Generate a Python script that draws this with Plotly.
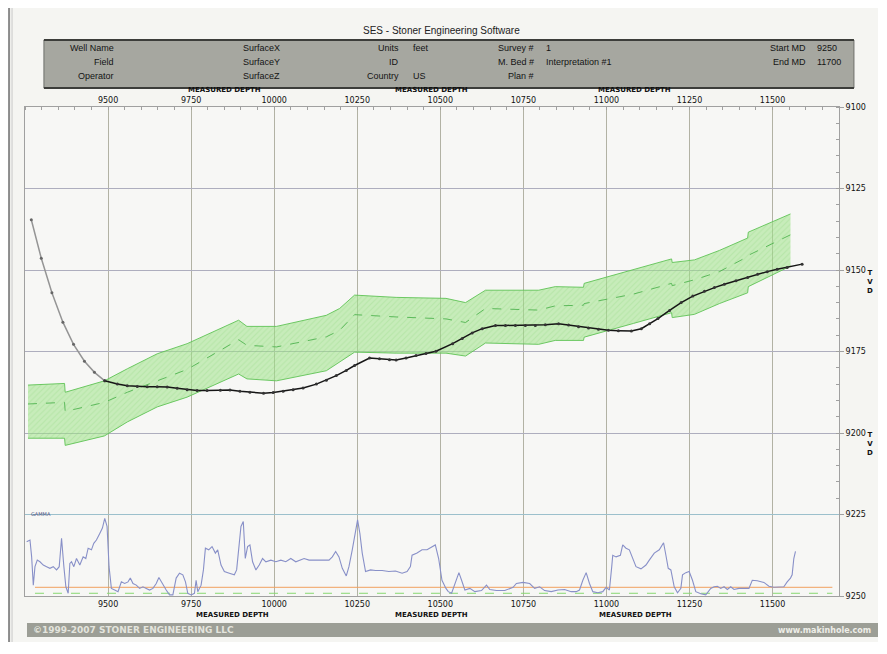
import plotly.graph_objects as go

# ---------------- data ----------------
# Well trajectory (measured depth, true vertical depth)
traj_md_pre = [9269, 9299, 9331, 9364, 9396, 9429, 9459, 9490]
traj_tvd_pre = [9134.6, 9146.4, 9157.0, 9166.0, 9172.8, 9178.0, 9181.4, 9184.0]

traj_md = [9490, 9528, 9558, 9588, 9618, 9648, 9678, 9708, 9738, 9768, 9798, 9838,
           9867, 9897, 9927, 9968, 9997, 10027, 10057, 10087, 10127, 10157, 10187,
           10217, 10242, 10287, 10317, 10347, 10367, 10397, 10427, 10457, 10487,
           10537, 10566, 10596, 10626, 10666, 10696, 10726, 10756, 10786, 10816,
           10856, 10886, 10916, 10946, 10976, 11006, 11036, 11075, 11105, 11130,
           11155, 11190, 11225, 11260, 11295, 11325, 11355, 11390, 11425, 11455,
           11484, 11514, 11544, 11589]
traj_tvd = [9184.0, 9185.0, 9185.5, 9185.7, 9185.8, 9185.8, 9185.9, 9186.3, 9186.7,
            9187.0, 9187.0, 9186.9, 9186.8, 9187.2, 9187.5, 9187.8, 9187.6, 9187.2,
            9186.7, 9186.2, 9185.0, 9183.8, 9182.4, 9180.8, 9179.3, 9177.0, 9177.2,
            9177.5, 9177.6, 9177.0, 9176.2, 9175.6, 9174.9, 9172.6, 9171.0, 9169.3,
            9168.0, 9167.0, 9167.0, 9167.0, 9167.0, 9167.0, 9166.8, 9166.5, 9166.9,
            9167.4, 9167.8, 9168.2, 9168.5, 9168.6, 9168.7, 9168.0, 9166.5, 9164.9,
            9162.4, 9160.0, 9158.0, 9156.5, 9155.4, 9154.4, 9153.3, 9152.3, 9151.3,
            9150.5, 9149.8, 9149.2, 9148.2]

# Marker bed interpretation band
band_md = [9259, 9369, 9371, 9489, 9558, 9648, 9738, 9893, 9918, 10007, 10157,
           10197, 10242, 10367, 10517, 10576, 10636, 10796, 10846, 10931, 10933,
           11081, 11196, 11198, 11265, 11340, 11425, 11427, 11554]
band_top = [9185.3, 9184.8, 9187.5, 9184.0, 9180.3, 9175.7, 9172.6, 9165.4, 9167.3,
            9167.3, 9163.9, 9161.8, 9157.7, 9158.4, 9158.7, 9160.0, 9156.2, 9156.2,
            9155.1, 9155.3, 9154.1, 9149.8, 9146.6, 9147.7, 9146.9, 9144.0, 9140.2,
            9138.4, 9132.8]
band_bot = [9201.6, 9201.6, 9203.8, 9200.9, 9196.6, 9192.0, 9189.0, 9181.9, 9183.4,
            9184.0, 9180.9, 9178.3, 9175.2, 9175.5, 9175.5, 9176.4, 9172.4, 9172.8,
            9171.6, 9171.6, 9170.6, 9166.4, 9163.1, 9164.6, 9163.6, 9160.3, 9157.0,
            9155.1, 9148.8]
band_mid = [9191.1, 9190.6, 9193.4, 9190.6, 9187.5, 9184.0, 9180.5, 9171.4, 9173.1,
            9173.6, 9170.5, 9168.5, 9163.7, 9164.4, 9165.0, 9166.1, 9161.8, 9162.3,
            9161.0, 9160.8, 9160.3, 9157.4, 9154.1, 9154.8, 9153.0, 9150.5, 9145.9,
            9145.5, 9139.2]

# Gamma log (API)
gamma_md = [9255, 9265, 9270, 9275, 9280, 9287, 9295, 9305, 9315, 9325, 9335, 9345,
            9353, 9360, 9367, 9373, 9380, 9385, 9390, 9397, 9405, 9415, 9425, 9433,
            9440, 9450, 9457, 9465, 9475, 9483, 9490, 9497, 9503, 9510, 9520, 9530,
            9540, 9550, 9560, 9567, 9575, 9585, 9595, 9605, 9615, 9625, 9635, 9645,
            9653, 9663, 9675, 9685, 9695, 9705, 9715, 9725, 9733, 9740, 9750, 9760,
            9765, 9770, 9780, 9787, 9793, 9803, 9813, 9823, 9830, 9840, 9850, 9865,
            9880, 9887, 9893, 9900, 9907, 9913, 9920, 9927, 9935, 9945, 9955, 9965,
            9975, 9990, 10005, 10020, 10035, 10050, 10065, 10080, 10090, 10105, 10120,
            10135, 10150, 10165, 10175, 10185, 10195, 10205, 10217, 10225, 10235,
            10245, 10251, 10258, 10265, 10275, 10290, 10305, 10325, 10345, 10365,
            10385, 10400, 10410, 10415, 10430, 10445, 10460, 10475, 10485, 10495,
            10505, 10517, 10524, 10534, 10546, 10556, 10564, 10574, 10589, 10604,
            10624, 10639, 10649, 10669, 10694, 10719, 10729, 10749, 10769, 10784,
            10799, 10814, 10834, 10854, 10874, 10894, 10909, 10919, 10929, 10939,
            10949, 10959, 10974, 10989, 10999, 11009, 11016, 11019, 11029, 11042,
            11049, 11059, 11069, 11079, 11089, 11104, 11119, 11129, 11144, 11159,
            11164, 11172, 11179, 11186, 11194, 11204, 11214, 11224, 11229, 11239,
            11249, 11259, 11269, 11284, 11299, 11314, 11324, 11334, 11344, 11354,
            11364, 11374, 11384, 11399, 11414, 11429, 11439, 11454, 11474, 11489,
            11504, 11519, 11534, 11544, 11554, 11559, 11564, 11569]
gamma_api = [100, 103, 72, 20, 54, 66, 63, 57, 54, 51, 54, 48,
             54, 106, 54, 17, 5, 60, 63, 54, 69, 57, 72, 69,
             88, 85, 97, 103, 115, 125, 143, 128, 54, 14, 11, 8,
             26, 23, 26, 33, 23, 20, 14, 17, 14, 11, 14, 23,
             34, 23, 11, 2, 2, 33, 42, 39, 26, 5, 2, 5,
             29, 8, 20, 48, 88, 85, 91, 79, 85, 57, 45, 42,
             39, 48, 91, 128, 137, 69, 91, 94, 63, 48, 57, 69,
             63, 66, 63, 66, 63, 69, 63, 66, 69, 66, 66,
             67, 66, 66, 72, 82, 72, 51, 37, 54, 85,
             121, 140, 115, 79, 45, 48, 47, 47, 45, 46,
             42, 45, 54, 75, 79, 85, 85, 91, 94, 69,
             29, 14, 8, 5, 26, 43, 29, 11, 14, 8,
             10, 20, 12, 10, 10, 16, 23, 25, 23, 14,
             17, 10, 8, 11, 12, 8, 8, 11, 29, 43,
             23, 8, 6, 8, 16, 11, 54, 75, 72, 75,
             94, 88, 85, 69, 54, 50, 57, 66, 79, 85,
             91, 98, 75, 51, 48, 17, 6, 14, 39, 43,
             45, 29, 8, 4, 2, 14, 17, 18, 14, 17,
             12, 17, 12, 14, 14, 14, 29, 28, 25, 18,
             16, 16, 17, 26, 33, 39, 69, 82]

gamma_cutoff_md = [9280, 11680]
gamma_cutoff_high = 16
gamma_cutoff_low = 5

md_ticks = [9500, 9750, 10000, 10250, 10500, 10750, 11000, 11250, 11500]
tvd_ticks = [9100, 9125, 9150, 9175, 9200, 9225, 9250]

header_rows = [
    ["Well Name", "SurfaceX", "Units", "feet", "Survey #", "1", "Start MD", "9250"],
    ["Field", "SurfaceY", "ID", "", "M. Bed #", "Interpretation #1", "End MD", "11700"],
    ["Operator", "SurfaceZ", "Country", "US", "Plan #", "", "", ""],
]

# ---------------- layout helpers ----------------
OFF = 8  # page body margin of the html page
W, H = 870, 634
L, R, T, B = 25, 842, 107, 596  # plot area in screen pixels


def PX(px):
    return (px - L) / (R - L)


def PY(py):
    return (B - py) / (B - T)


FONT = "DejaVu Sans"
HFONT = "Liberation Sans"

fig = go.Figure()

# band
fig.add_trace(go.Scatter(x=band_md, y=band_bot, mode="lines",
                         line=dict(color="rgba(95,195,85,0.9)", width=1),
                         hoverinfo="skip", showlegend=False))
fig.add_trace(go.Scatter(x=band_md, y=band_top, mode="lines", fill="tonexty",
                         fillcolor="rgba(150,225,125,0.55)",
                         fillpattern=dict(shape="/", bgcolor="rgba(160,228,138,0.55)",
                                          fgcolor="rgba(120,205,100,0.45)", size=4,
                                          solidity=0.25),
                         line=dict(color="rgba(95,195,85,0.9)", width=1),
                         hoverinfo="skip", showlegend=False))
fig.add_trace(go.Scatter(x=band_md, y=band_mid, mode="lines",
                         line=dict(color="rgba(80,180,80,0.9)", width=1, dash="dash"),
                         hoverinfo="skip", showlegend=False))

# trajectory
fig.add_trace(go.Scatter(x=traj_md_pre, y=traj_tvd_pre, mode="lines+markers",
                         line=dict(color="#959595", width=1.5),
                         marker=dict(color="#666", size=3),
                         showlegend=False))
fig.add_trace(go.Scatter(x=traj_md, y=traj_tvd, mode="lines+markers",
                         line=dict(color="#151515", width=1.5),
                         marker=dict(color="#333", size=3),
                         showlegend=False))

# gamma strip
fig.add_trace(go.Scatter(x=gamma_cutoff_md, y=[gamma_cutoff_high] * 2, mode="lines",
                         line=dict(color="#f0a060", width=1), xaxis="x", yaxis="y2",
                         hoverinfo="skip", showlegend=False))
fig.add_trace(go.Scatter(x=gamma_cutoff_md, y=[gamma_cutoff_low] * 2, mode="lines",
                         line=dict(color="#88d870", width=1, dash="dash"), xaxis="x",
                         yaxis="y2", hoverinfo="skip", showlegend=False))
fig.add_trace(go.Scatter(x=gamma_md, y=gamma_api, mode="lines",
                         line=dict(color="#8890c8", width=1.1), xaxis="x", yaxis="y2",
                         showlegend=False))

# dummy trace for bottom axis
fig.add_trace(go.Scatter(x=[None], y=[None], xaxis="x2", yaxis="y", showlegend=False,
                         hoverinfo="skip"))

tickfont = dict(family=FONT, size=8, color="#111")

fig.update_layout(
    width=W, height=H, autosize=False,
    margin=dict(l=L - OFF, r=W + OFF - R, t=T - OFF, b=H + OFF - B, pad=0),
    paper_bgcolor="#f5f5f2", plot_bgcolor="#f7f7f5",
    xaxis=dict(range=[9250, 11700], side="top", tickvals=md_ticks,
               ticktext=[str(v) for v in md_ticks], tickfont=tickfont,
               showgrid=True, gridcolor="#b2b2a4", gridwidth=1, zeroline=False,
               showline=True, linecolor="#a0a0a0", linewidth=1, ticks="",
               minor=dict(ticks="inside", dtick=50, tick0=9250, ticklen=3,
                          tickcolor="#a0a0a0", showgrid=False),
               anchor="y"),
    xaxis2=dict(range=[9250, 11700], side="bottom", overlaying="x", anchor="y",
                tickvals=md_ticks, ticktext=[str(v) for v in md_ticks],
                tickfont=tickfont, showgrid=False, zeroline=False,
                showline=True, linecolor="#a0a0a0", ticks=""),
    yaxis=dict(range=[9250, 9100], side="right", tickvals=tvd_ticks,
               ticktext=[str(v) for v in tvd_ticks], tickfont=tickfont,
               showgrid=True, gridcolor="#aeaebe", gridwidth=1, zeroline=False,
               showline=True, linecolor="#a0a0a0", linewidth=1,
               ticks="outside", ticklen=4, tickcolor="#a0a0a0",
               minor=dict(ticks="inside", dtick=5, tick0=9100, ticklen=3,
                          tickcolor="#a0a0a0", showgrid=False),
               mirror=True, anchor="x", domain=[0, 1]),
    yaxis2=dict(range=[0, 150], domain=[0, 25 / 150], visible=False, anchor="x",
                fixedrange=True),
    showlegend=False,
)

shapes = []
ann = []

# page edge lines
shapes.append(dict(type="line", xref="paper", yref="paper", x0=PX(9), x1=PX(9),
                   y0=PY(8), y1=PY(642), line=dict(color="#8c8c8c", width=2)))
shapes.append(dict(type="line", xref="paper", yref="paper", x0=PX(12), x1=PX(12),
                   y0=PY(8), y1=PY(642), line=dict(color="#c8c8c8", width=1)))

# gamma strip top line (cyan tint)
shapes.append(dict(type="line", xref="paper", yref="y", x0=0, x1=1, y0=9225, y1=9225,
                   line=dict(color="#9cc0cc", width=1)))

# header box
shapes.append(dict(type="rect", xref="paper", yref="paper", x0=PX(44), x1=PX(857),
                   y0=PY(88), y1=PY(40), fillcolor="#a6a7a0",
                   line=dict(color="#6e6f6a", width=1)))
shapes.append(dict(type="line", xref="paper", yref="paper", x0=PX(44), x1=PX(857),
                   y0=PY(40), y1=PY(40), line=dict(color="#3c3d3a", width=2)))
shapes.append(dict(type="line", xref="paper", yref="paper", x0=PX(44), x1=PX(857),
                   y0=PY(88), y1=PY(88), line=dict(color="#3c3d3a", width=2)))

# footer bar
shapes.append(dict(type="rect", xref="paper", yref="paper", x0=PX(27), x1=PX(884),
                   y0=PY(637), y1=PY(623), fillcolor="#9c9e96", line=dict(width=0)))

# title
ann.append(dict(text="SES - Stoner Engineering Software", x=PX(443), y=PY(31),
                xref="paper", yref="paper", showarrow=False, xanchor="center",
                yanchor="middle", font=dict(family=HFONT, size=10, color="#222")))

# header texts
row_y = [48, 62, 76]
col_spec = [(116, "right"), (283, "right"), (402, "right"), (412, "left"),
            (538, "right"), (546, "left"), (811, "right"), (818, "left")]
for ry, row in zip(row_y, header_rows):
    for (cx, anchor), txt in zip(col_spec, row):
        if not txt:
            continue
        ann.append(dict(text=txt, x=PX(cx), y=PY(ry), xref="paper", yref="paper",
                        showarrow=False, xanchor=anchor, yanchor="middle",
                        font=dict(family=HFONT, size=9, color="#141414")))

# measured depth labels
for cx in [225, 433, 637]:
    ann.append(dict(text="<b>MEASURED DEPTH</b>", x=PX(cx), y=PY(90), xref="paper",
                    yref="paper", showarrow=False, xanchor="center", yanchor="middle",
                    font=dict(family=FONT, size=7, color="#111")))
for cx in [233, 433, 638]:
    ann.append(dict(text="<b>MEASURED DEPTH</b>", x=PX(cx), y=PY(615), xref="paper",
                    yref="paper", showarrow=False, xanchor="center", yanchor="middle",
                    font=dict(family=FONT, size=7, color="#111")))

# TVD labels
for cy in [282, 444]:
    ann.append(dict(text="<b>T<br>V<br>D</b>", x=PX(873), y=PY(cy), xref="paper",
                    yref="paper", showarrow=False, xanchor="center", yanchor="middle",
                    font=dict(family=FONT, size=7, color="#111")))

# gamma label
ann.append(dict(text="GAMMA", x=PX(29), y=PY(514), xref="paper", yref="paper",
                showarrow=False, xanchor="left", yanchor="middle",
                font=dict(family=FONT, size=5, color="#4a4f80")))

# footer texts
ann.append(dict(text="<b>©1999-2007 STONER ENGINEERING LLC</b>", x=PX(31), y=PY(630),
                xref="paper", yref="paper", showarrow=False, xanchor="left",
                yanchor="middle", font=dict(family=FONT, size=9, color="#e4e5de")))
ann.append(dict(text="<b>www.makinhole.com</b>", x=PX(876), y=PY(630),
                xref="paper", yref="paper", showarrow=False, xanchor="right",
                yanchor="middle", font=dict(family=FONT, size=8, color="#eeeee8")))

fig.update_layout(shapes=shapes, annotations=ann)

fig.write_html("out.html")
